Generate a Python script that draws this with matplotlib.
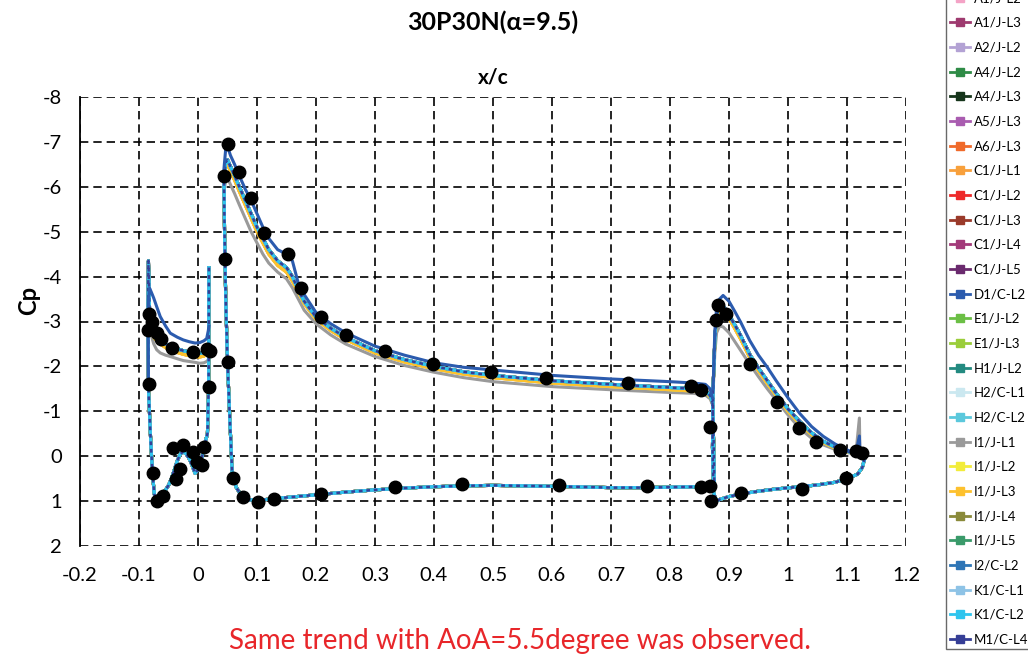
import matplotlib
matplotlib.use('Agg')
import matplotlib.pyplot as plt
from matplotlib.lines import Line2D

plt.rcParams['font.family'] = ['Lato', 'DejaVu Sans']

# series in legend order, colour, which curve family they follow
names = ['A1/J-L2', 'A1/J-L3', 'A2/J-L2', 'A4/J-L2', 'A4/J-L3', 'A5/J-L3', 'A6/J-L3',
         'C1/J-L1', 'C1/J-L2', 'C1/J-L3', 'C1/J-L4', 'C1/J-L5', 'D1/C-L2', 'E1/J-L2',
         'E1/J-L3', 'H1/J-L2', 'H2/C-L1', 'H2/C-L2', 'I1/J-L1', 'I1/J-L2', 'I1/J-L3',
         'I1/J-L4', 'I1/J-L5', 'I2/C-L2', 'K1/C-L1', 'K1/C-L2', 'M1/C-L4']
colors = ['#F4A3C6', '#9E3A6F', '#B3A2D4', '#2E8B46', '#16351B', '#A95CB0', '#F06A2A',
          '#F8A03C', '#EE2A2A', '#9A3A2A', '#A33A7A', '#6A2A6E', '#2B5BAE', '#6BBF45',
          '#9ACD3A', '#238A80', '#CBE8F0', '#5BC8DC', '#9A9A9A', '#F2EC3A', '#FDC12E',
          '#8A8A3A', '#3A9A6A', '#2E75B6', '#8EC3E6', '#2EC4EE', '#363E96']
family = ['mid', 'mid', 'mid', 'mid', 'mid', 'mid', 'mlow',
          'mlow', 'mid', 'mid', 'mid', 'mid', 'high', 'mid',
          'mid', 'mid', 'mid', 'mid', 'low', 'mlow', 'mlow',
          'mid', 'mid', 'mid', 'mid', 'mid', 'mid']

# slat
slat_x_up = [-0.084, -0.0845, -0.084, -0.082, -0.079, -0.075, -0.070, -0.064, -0.055, -0.047,
             -0.035, -0.025, -0.015, -0.005, 0.003, 0.010, 0.0147, 0.0175, 0.0185]
slat_up = {
    'high': [-1.5, -2.8, -3.5, -3.74, -3.65, -3.52, -3.33, -3.11, -2.9, -2.74,
             -2.65, -2.59, -2.55, -2.52, -2.53, -2.57, -2.62, -2.8, -2.9],
    'mid':  [-1.5, -3.0, -4.35, -3.2, -2.85, -2.75, -2.67, -2.59, -2.5, -2.44,
             -2.39, -2.35, -2.32, -2.3, -2.29, -2.31, -2.34, -2.45, -2.5],
    'mlow': [-1.5, -2.8, -3.1, -2.95, -2.75, -2.65, -2.57, -2.5, -2.42, -2.36,
             -2.31, -2.27, -2.24, -2.22, -2.21, -2.23, -2.27, -2.35, -2.4],
    'low':  [-1.5, -2.5, -2.8, -2.85, -2.68, -2.5, -2.37, -2.3, -2.25, -2.22,
             -2.17, -2.13, -2.11, -2.09, -2.07, -2.08, -2.11, -2.15, -2.2],
}
slat_x_lo = [0.0185, 0.018, 0.016, 0.012, 0.008, 0.004, 0.000, -0.005, -0.010, -0.015,
             -0.020, -0.025, -0.030, -0.035, -0.040, -0.045, -0.050, -0.055, -0.060,
             -0.065, -0.070, -0.074, -0.077, -0.080, -0.082, -0.084]
slat_lo = [-4.2, -1.5, -0.5, -0.3, -0.05, 0.15, 0.3, 0.38, 0.2, 0.05,
           -0.05, -0.1, -0.05, 0.1, 0.3, 0.5, 0.65, 0.75, 0.85,
           0.92, 0.98, 0.85, 0.4, -0.3, -0.9, -1.5]

# main element
main_x_up = [0.044, 0.047, 0.050, 0.055, 0.062, 0.070, 0.080, 0.090, 0.100, 0.110,
             0.120, 0.135, 0.150, 0.160, 0.170, 0.180, 0.200, 0.225, 0.250, 0.300,
             0.350, 0.400, 0.450, 0.500, 0.600, 0.700, 0.800, 0.840, 0.860, 0.868, 0.872]
main_up = {
    'high': [-6.4, -6.85, -6.9, -6.7, -6.5, -6.25, -5.95, -5.7, -5.4, -5.1,
             -4.85, -4.6, -4.5, -4.35, -3.85, -3.6, -3.2, -2.95, -2.75, -2.45,
             -2.25, -2.08, -1.98, -1.92, -1.8, -1.72, -1.66, -1.63, -1.6, -1.5, -1.3],
    'mid':  [-6.2, -6.55, -6.6, -6.45, -6.25, -6.0, -5.7, -5.4, -5.1, -4.85,
             -4.6, -4.35, -4.2, -4.0, -3.7, -3.45, -3.1, -2.85, -2.65, -2.35,
             -2.15, -2.0, -1.88, -1.8, -1.68, -1.6, -1.53, -1.5, -1.46, -1.35, -1.2],
    'mlow': [-6.1, -6.45, -6.5, -6.35, -6.15, -5.9, -5.6, -5.3, -5.0, -4.75,
             -4.5, -4.25, -4.1, -3.9, -3.65, -3.4, -3.05, -2.8, -2.6, -2.3,
             -2.1, -1.95, -1.83, -1.75, -1.63, -1.55, -1.48, -1.45, -1.42, -1.32, -1.2],
    'low':  [-5.9, -6.15, -6.2, -6.05, -5.85, -5.6, -5.3, -5.0, -4.75, -4.5,
             -4.3, -4.1, -3.95, -3.75, -3.5, -3.25, -2.95, -2.7, -2.5, -2.22,
             -2.02, -1.87, -1.75, -1.66, -1.55, -1.48, -1.42, -1.4, -1.36, -1.28, -1.15],
}
main_x_lo = [0.872, 0.874, 0.875, 0.85, 0.80, 0.75, 0.70, 0.60, 0.50, 0.45,
             0.40, 0.35, 0.30, 0.25, 0.20, 0.15, 0.12, 0.10, 0.085, 0.075,
             0.065, 0.058, 0.054, 0.050, 0.047, 0.045, 0.044]
main_lo = [-1.2, -0.3, 0.65, 0.68, 0.69, 0.7, 0.7, 0.67, 0.65, 0.66,
           0.68, 0.71, 0.75, 0.8, 0.86, 0.92, 0.96, 0.98, 0.97, 0.9,
           0.7, 0.4, -0.8, -2.1, -3.5, -5.0, -6.2]

# flap
flap_x_up = [0.873, 0.876, 0.879, 0.884, 0.890, 0.900, 0.910, 0.920, 0.935, 0.950,
             0.965, 0.980, 1.000, 1.020, 1.040, 1.060, 1.080, 1.100, 1.115, 1.121,
             1.122, 1.130]
flap_up = {
    'high': [-1.5, -2.8, -3.3, -3.5, -3.58, -3.45, -3.22, -2.98, -2.58, -2.25,
             -1.98, -1.68, -1.3, -0.95, -0.66, -0.44, -0.27, -0.14, -0.06, -0.45,
             -0.02, 0.05],
    'mid':  [-1.5, -2.6, -3.15, -3.38, -3.35, -3.15, -2.92, -2.68, -2.27, -1.96,
             -1.68, -1.4, -1.05, -0.77, -0.52, -0.33, -0.2, -0.11, -0.05, -0.02,
             -0.01, 0.05],
    'mlow': [-1.5, -2.55, -3.08, -3.3, -3.27, -3.07, -2.84, -2.6, -2.2, -1.9,
             -1.62, -1.35, -1.0, -0.72, -0.48, -0.3, -0.18, -0.1, -0.05, -0.02,
             -0.01, 0.05],
    'low':  [-1.4, -2.3, -2.75, -2.9, -2.88, -2.75, -2.55, -2.35, -2.05, -1.77,
             -1.5, -1.25, -0.92, -0.62, -0.4, -0.25, -0.15, -0.08, -0.05, -0.85,
             -0.03, 0.05],
}
flap_x_lo = [1.130, 1.126, 1.118, 1.100, 1.080, 1.050, 1.020, 0.980, 0.950, 0.920,
             0.900, 0.885, 0.878, 0.874, 0.872, 0.873]
flap_lo = [0.05, 0.25, 0.4, 0.5, 0.58, 0.64, 0.68, 0.73, 0.78, 0.84,
           0.9, 0.96, 1.0, 0.8, -0.2, -1.5]

# experiment
exp_x = [-0.0825, -0.0785, -0.084, -0.069, -0.063, -0.0446, -0.008, 0.0147, 0.020, -0.0825,
         0.018, -0.077, -0.070, -0.059, -0.037, -0.031, -0.042, -0.025, -0.009, -0.002,
         0.006, 0.011,
         0.0514, 0.044, 0.0695, 0.0893, 0.112, 0.153, 0.174, 0.208, 0.0458, 0.050,
         0.060, 0.077, 0.101, 0.129, 0.208, 0.251, 0.317, 0.398, 0.497, 0.59,
         0.729, 0.836, 0.853, 0.334, 0.447, 0.612, 0.761, 0.852, 0.867, 0.868,
         0.882, 0.895, 0.878, 0.936, 0.981, 1.019, 1.047, 1.088, 1.116, 1.125,
         0.870, 0.920, 1.023, 1.098]
exp_cp = [-3.17, -3.0, -2.81, -2.75, -2.61, -2.42, -2.32, -2.39, -2.35, -1.61,
          -1.55, 0.38, 0.99, 0.89, 0.51, 0.29, -0.18, -0.24, -0.09, 0.14,
          0.20, -0.21,
          -6.95, -6.25, -6.32, -5.74, -4.96, -4.50, -3.75, -3.11, -4.39, -2.10,
          0.49, 0.90, 1.01, 0.95, 0.84, -2.70, -2.34, -2.05, -1.88, -1.74,
          -1.63, -1.56, -1.47, 0.69, 0.62, 0.64, 0.66, 0.68, 0.66, -0.64,
          -3.37, -3.16, -3.03, -2.05, -1.21, -0.63, -0.31, -0.14, -0.12, -0.08,
          0.99, 0.83, 0.72, 0.48]

x_ticks = [-0.2, -0.1, 0, 0.1, 0.2, 0.3, 0.4, 0.5, 0.6, 0.7, 0.8, 0.9, 1, 1.1, 1.2]
x_labels = ['-0.2', '-0.1', '0', '0.1', '0.2', '0.3', '0.4', '0.5', '0.6', '0.7', '0.8',
            '0.9', '1', '1.1', '1.2']
y_ticks = [-8, -7, -6, -5, -4, -3, -2, -1, 0, 1, 2]
y_labels = ['-8', '-7', '-6', '-5', '-4', '-3', '-2', '-1', '0', '1', '2']

fig = plt.figure(figsize=(10.28, 6.72), dpi=100)
ax = fig.add_axes([80 / 1028, 1 - 546 / 672, 826 / 1028, 449 / 672])

for i, name in enumerate(names):
    fam = family[i]
    z_up, z_lo, ls, lw = 2, 2, '-', 2.2
    if name == 'D1/C-L2':
        z_up = 3
    if name == 'K1/C-L2':
        z_up, z_lo = 2.5, 2.5
    if name == 'M1/C-L4':
        z_up, z_lo, ls, lw = 2.6, 2.6, (0, (1.5, 1.5)), 1.8
    up = dict(color=colors[i], lw=lw, ls=ls, zorder=z_up, solid_joinstyle='round')
    lo = dict(color=colors[i], lw=lw, ls=ls, zorder=z_lo, solid_joinstyle='round')
    ax.plot(slat_x_up, slat_up[fam], **up)
    ax.plot(slat_x_lo, slat_lo, **lo)
    ax.plot(main_x_up, main_up[fam], **up)
    ax.plot(main_x_lo, main_lo, **lo)
    ax.plot(flap_x_up, flap_up[fam], **up)
    ax.plot(flap_x_lo, flap_lo, **lo)

ax.plot(exp_x, exp_cp, 'o', color='black', ms=9, zorder=5)

ax.set_xlim(-0.2, 1.2)
ax.set_ylim(2, -8)
ax.set_xticks(x_ticks)
ax.set_xticklabels(x_labels)
ax.set_yticks(y_ticks)
ax.set_yticklabels(y_labels)
ax.tick_params(axis='x', length=0, pad=15, labelsize=14.5)
ax.tick_params(axis='y', length=0, pad=13, labelsize=14.5)
ax.grid(True, color='black', linestyle=(0, (5, 3)), linewidth=1.2)
ax.set_axisbelow(True)
for s in ['top', 'right', 'bottom']:
    ax.spines[s].set_visible(False)
ax.spines['left'].set_linewidth(1.3)

fig.text(493 / 1028, 1 - 22 / 672, '30P30N(α=9.5)', ha='center', va='center',
         fontsize=18, fontweight='bold')
fig.text(493 / 1028, 1 - 78 / 672, 'x/c', ha='center', va='center',
         fontsize=15, fontweight='bold')
fig.text(29 / 1028, 1 - 300 / 672, 'Cp', ha='center', va='center', rotation=90,
         fontsize=17, fontweight='bold')
fig.text(520 / 1028, 1 - 641 / 672, 'Same trend with AoA=5.5degree was observed.',
         ha='center', va='center', fontsize=20, color='#E8262A')

handles = [Line2D([], [], color=c, lw=2, marker='s', ms=6) for c in colors]
leg = fig.legend(handles, names, loc='upper left', bbox_to_anchor=(946 / 1028, 1.0175),
                 frameon=True, fancybox=False, edgecolor='#444444', fontsize=9.5,
                 handlelength=1.5, handletextpad=0.3, labelspacing=0.96,
                 borderaxespad=0, borderpad=0.3)
leg.get_frame().set_linewidth(1.0)

fig.savefig('out.png', dpi=100)
